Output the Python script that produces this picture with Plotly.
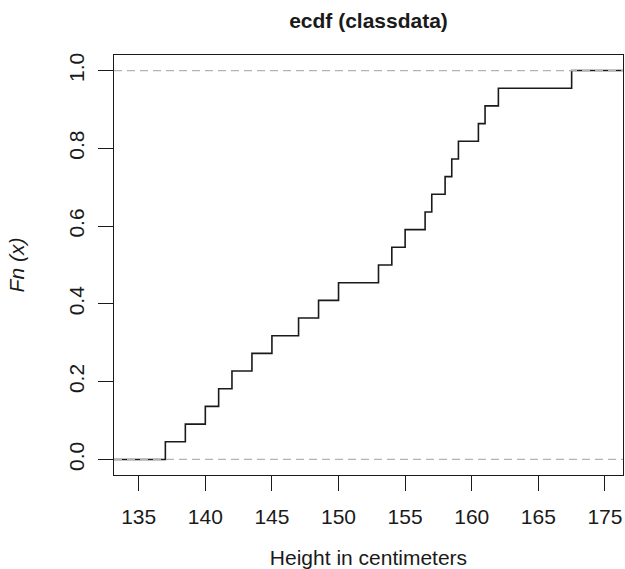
import numpy as np
import plotly.graph_objects as go

# ---- data ----
heights = [137, 138.5, 140, 141, 142, 143.5, 145, 147, 148.5, 150,
           153, 154, 155, 156.5, 157, 158, 158.5, 159, 160.5, 161, 162, 167.5]
x_tickvals = [135, 140, 145, 150, 155, 160, 165, 170]
x_ticktext = ["135", "140", "145", "150", "155", "160", "165", "175"]
y_tickvals = [0.0, 0.2, 0.4, 0.6, 0.8, 1.0]
y_ticktext = ["0.0", "0.2", "0.4", "0.6", "0.8", "1.0"]
title_text = "ecdf (classdata)"
x_label = "Height in centimeters"
y_label = "<i>Fn (x)</i>"

# ---- ecdf computation (R plot.stepfun style) ----
knots = np.sort(np.array(heights, dtype=float))
n = len(knots)
levels = np.arange(1, n + 1) / n
rx = (knots.min(), knots.max())
dr = max(0.08 * (rx[1] - rx[0]), float(np.median(np.diff(knots))))
xlim = (rx[0] - dr, rx[1] + dr)
pad = 0.04 * (xlim[1] - xlim[0])
x_range = [xlim[0] - pad, xlim[1] + pad]
y_range = [-0.04, 1.04]

xs = np.concatenate([[xlim[0] - dr], knots, [xlim[1] + dr]])
ys = np.concatenate([[0.0], levels, [1.0]])

FONT = "Liberation Sans, Arial, Helvetica, sans-serif"
INK = "#1a1a1a"

fig = go.Figure()
fig.add_trace(go.Scatter(
    x=xs, y=ys, mode="lines", line=dict(shape="hv", color="#1a1a1a", width=1.6),
    showlegend=False, hoverinfo="skip"))

for yv in (0.0, 1.0):
    fig.add_shape(type="line", xref="paper", x0=0, x1=1, yref="y", y0=yv, y1=yv,
                  line=dict(color="#b3b3b3", width=1.3, dash="8px,5px"), layer="above")

fig.update_layout(
    width=625, height=569,
    margin=dict(l=114, r=2, t=55, b=94),
    paper_bgcolor="white", plot_bgcolor="white",
    font=dict(family=FONT, size=21, color=INK),
    title=dict(text="<b>" + title_text + "</b>", x=(114 + 623) / 2 / 625, xanchor="center",
               y=1 - 21 / 569, yanchor="middle", yref="container",
               font=dict(family=FONT, size=21, color=INK)),
    showlegend=False,
)
fig.update_xaxes(
    range=x_range, tickvals=x_tickvals, ticktext=x_ticktext, automargin=False,
    showgrid=False, zeroline=False,
    showline=True, linecolor=INK, linewidth=1.4, mirror=True,
    ticks="outside", ticklen=15, tickwidth=1.4, tickcolor=INK, ticklabelstandoff=8,
    tickfont=dict(family=FONT, size=21, color=INK),
    title=dict(text=x_label, font=dict(family=FONT, size=21, color=INK), standoff=22),
)
fig.update_yaxes(
    range=y_range, tickvals=y_tickvals, ticktext=y_ticktext, tickangle=-90, automargin=False,
    showgrid=False, zeroline=False,
    showline=True, linecolor=INK, linewidth=1.4, mirror=True,
    ticks="outside", ticklen=15, tickwidth=1.4, tickcolor=INK, ticklabelstandoff=5,
    tickfont=dict(family=FONT, size=21, color=INK),
    title=dict(text=y_label, font=dict(family=FONT, size=21, color=INK), standoff=35),
)

fig.write_html("out.html", config={"displayModeBar": False},
               post_script="document.body.style.margin='0';document.body.style.overflow='hidden';")
